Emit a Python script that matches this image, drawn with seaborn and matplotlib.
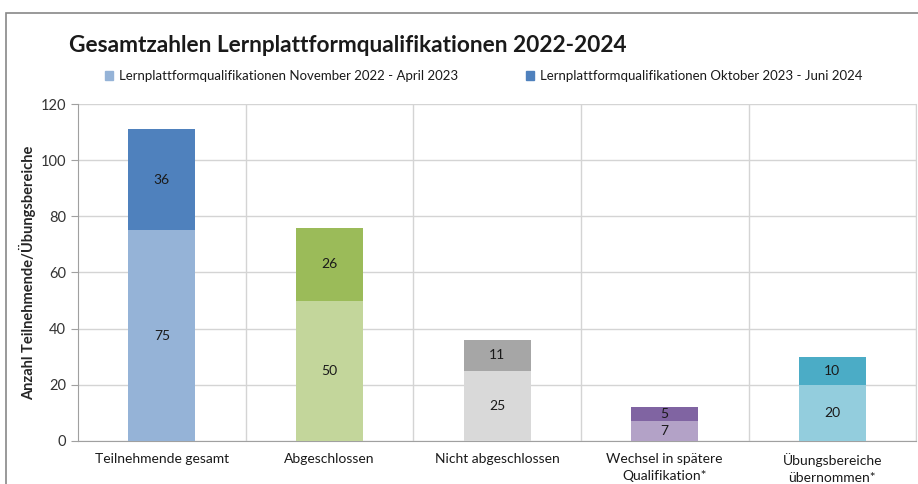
import numpy as np
import pandas as pd
import matplotlib
matplotlib.use("Agg")
import matplotlib.pyplot as plt
from matplotlib.patches import Patch, Rectangle
import seaborn as sns

categories = ["Teilnehmende gesamt", "Abgeschlossen", "Nicht abgeschlossen",
              "Wechsel in spätere\nQualifikation*", "Übungsbereiche\nübernommen*"]
period_2022 = [75, 50, 25, 7, 20]
period_2023 = [36, 26, 11, 5, 10]
colors_2022 = ["#95B3D7", "#C3D69B", "#D9D9D9", "#B3A2C7", "#93CDDD"]
colors_2023 = ["#4F81BD", "#9BBB59", "#A6A6A6", "#8064A2", "#4BACC6"]
legend_labels = ["Lernplattformqualifikationen November 2022 - April 2023",
                 "Lernplattformqualifikationen Oktober 2023 - Juni 2024"]

sns.set_style("white")
plt.rcParams["font.family"] = ["Lato", "DejaVu Sans"]
plt.rcParams["text.color"] = "#1a1a1a"

df = pd.DataFrame({"cat": categories, "lower": period_2022, "upper": period_2023})
df["total"] = df["lower"] + df["upper"]

fig = plt.figure(figsize=(9.18, 4.84), dpi=100)
ax = fig.add_axes([0.085, 0.089, 0.913, 0.696])

sns.barplot(data=df, x="cat", y="total", hue="cat", palette=colors_2023,
            width=0.4, legend=False, ax=ax, zorder=3, saturation=1, linewidth=0)
sns.barplot(data=df, x="cat", y="lower", hue="cat", palette=colors_2022,
            width=0.4, legend=False, ax=ax, zorder=3, saturation=1, linewidth=0)

for i, (lo, up) in enumerate(zip(period_2022, period_2023)):
    ax.text(i, lo / 2, str(lo), ha="center", va="center", fontsize=10, zorder=4)
    ax.text(i, lo + up / 2, str(up), ha="center", va="center", fontsize=10, zorder=4)

ax.set_xlim(-0.5, 4.5)
ax.set_ylim(0, 120)
ax.set_yticks(range(0, 121, 20))
ax.yaxis.grid(True, color="#D4D4D4", linewidth=1)
ax.set_axisbelow(True)
for b in np.arange(0.5, 5, 1):
    ax.axvline(b, color="#D4D4D4", linewidth=1, zorder=1)
ax.set_xticks(np.arange(-0.5, 5, 1), minor=True)
ax.tick_params(axis="x", which="major", length=0, labelsize=10, pad=9, labelcolor="#1a1a1a")
ax.tick_params(axis="x", which="minor", length=5, color="#A0A0A0")
for lbl in ax.get_xticklabels():
    lbl.set_linespacing(1.45)
ax.tick_params(axis="y", length=5, color="#A0A0A0", labelsize=10.5, labelcolor="#333333", left=True)
ax.set_xlabel("")
ax.set_ylabel("Anzahl Teilnehmende/Übungsbereiche", fontsize=10.5, fontweight="bold", va="center")
ax.yaxis.set_label_coords(-0.06, 0.5)
for s in ["left", "bottom"]:
    ax.spines[s].set_color("#A0A0A0")
ax.spines["top"].set_visible(False)
ax.spines["right"].set_color("#D4D4D4")

fig.text(0.075, 0.907, "Gesamtzahlen Lernplattformqualifikationen 2022-2024",
         fontsize=16.3, fontweight="bold", va="center")
handles = [Patch(color=colors_2022[0]), Patch(color=colors_2023[0])]
fig.legend(handles, legend_labels, loc="center", bbox_to_anchor=(0.527, 0.843), ncol=2,
           frameon=False, fontsize=9.5, handlelength=0.6, handleheight=0.6,
           handletextpad=0.4, columnspacing=5.2)

fig.patches.append(Rectangle((0.006, -0.1), 1.2, 1.073, transform=fig.transFigure,
                             fill=False, edgecolor="#888888", linewidth=1.2))

fig.savefig("out.png", dpi=100)
